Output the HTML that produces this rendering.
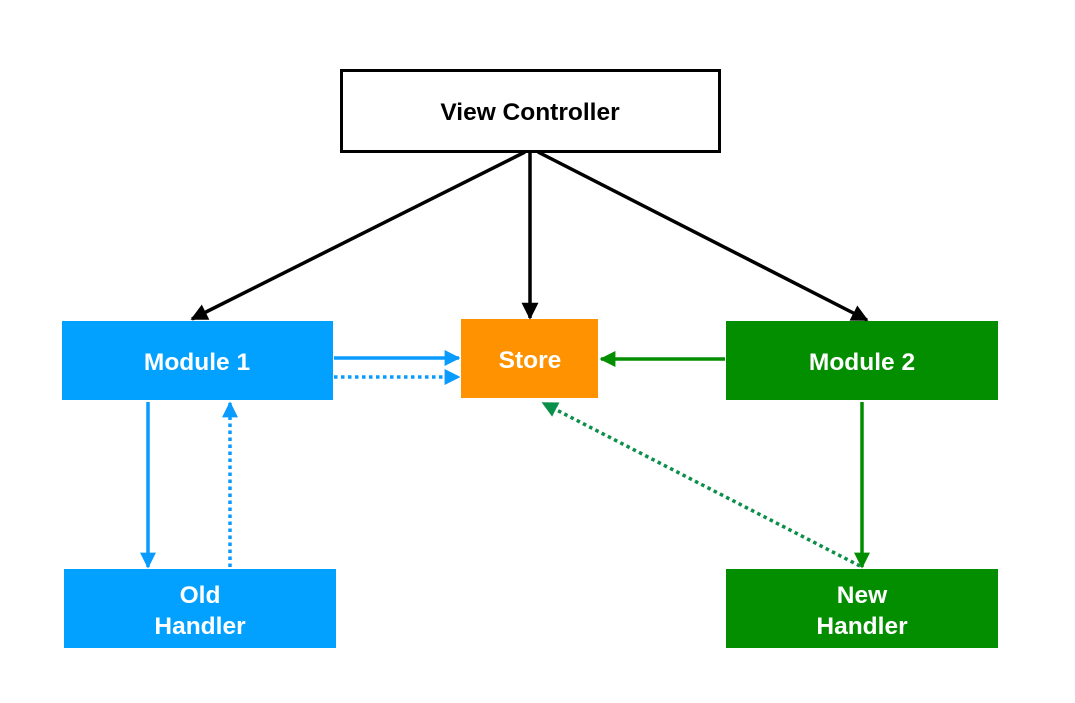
<!DOCTYPE html>
<html><head><style>
body{margin:0;background:#fff;}
svg{display:block;}
text{font-family:"Liberation Sans",Arial,sans-serif;font-weight:bold;font-size:24.5px;text-anchor:middle;}
</style></head><body>
<svg width="1075" height="703" viewBox="0 0 1075 703">
<defs>
<marker id="b" viewBox="0 0 10 10" markerWidth="16" markerHeight="16" refX="9" refY="5" orient="auto" markerUnits="userSpaceOnUse"><path d="M0,0 L10,5 L0,10 z" fill="#0a9bff"/></marker>
<marker id="g" viewBox="0 0 10 10" markerWidth="16" markerHeight="16" refX="9" refY="5" orient="auto" markerUnits="userSpaceOnUse"><path d="M0,0 L10,5 L0,10 z" fill="#038e00"/></marker>
<marker id="g2" viewBox="0 0 10 10" markerWidth="16" markerHeight="16" refX="9" refY="5" orient="auto" markerUnits="userSpaceOnUse"><path d="M0,0 L10,5 L0,10 z" fill="#0a8f4a"/></marker>
<marker id="kk" viewBox="0 0 10 10" markerWidth="17" markerHeight="17" refX="9" refY="5" orient="auto" markerUnits="userSpaceOnUse"><path d="M0,0 L10,5 L0,10 z" fill="#000"/></marker>
</defs>
<rect x="341.5" y="70.5" width="378" height="81" fill="#fff" stroke="#000" stroke-width="3"/>
<text x="530" y="120">View Controller</text>
<rect x="62" y="321" width="271" height="79" fill="#03a1ff"/>
<text x="197" y="370" fill="#fff">Module 1</text>
<rect x="64" y="569" width="272" height="79" fill="#03a1ff"/>
<text x="200" y="603" fill="#fff">Old</text>
<text x="200" y="634" fill="#fff">Handler</text>
<rect x="461" y="319" width="137" height="79" fill="#ff9200"/>
<text x="530" y="368" fill="#fff">Store</text>
<rect x="726" y="321" width="272" height="79" fill="#038e00"/>
<text x="862" y="370" fill="#fff">Module 2</text>
<rect x="726" y="569" width="272" height="79" fill="#038e00"/>
<text x="862" y="603" fill="#fff">New</text>
<text x="862" y="634" fill="#fff">Handler</text>
<g stroke-width="3.5" fill="none">
<line x1="525" y1="152" x2="192" y2="319" stroke="#000" marker-end="url(#kk)"/>
<line x1="530" y1="152" x2="530" y2="318" stroke="#000" marker-end="url(#kk)"/>
<line x1="538" y1="152" x2="867" y2="320" stroke="#000" marker-end="url(#kk)"/>
<line x1="334" y1="358" x2="459" y2="358" stroke="#0a9bff" marker-end="url(#b)"/>
<line x1="334" y1="377" x2="459" y2="377" stroke="#0a9bff" stroke-dasharray="3.5 3.5" marker-end="url(#b)"/>
<line x1="148" y1="402" x2="148" y2="567" stroke="#0a9bff" marker-end="url(#b)"/>
<line x1="230" y1="567" x2="230" y2="403" stroke="#0a9bff" stroke-dasharray="3.5 3.5" marker-end="url(#b)"/>
<line x1="725" y1="359" x2="601" y2="359" stroke="#038e00" marker-end="url(#g)"/>
<line x1="862" y1="402" x2="862" y2="567" stroke="#038e00" marker-end="url(#g)"/>
<line x1="860" y1="566" x2="543" y2="403" stroke="#0a8f4a" stroke-dasharray="3.5 3.5" marker-end="url(#g2)"/>
</g>
</svg>
</body></html>
